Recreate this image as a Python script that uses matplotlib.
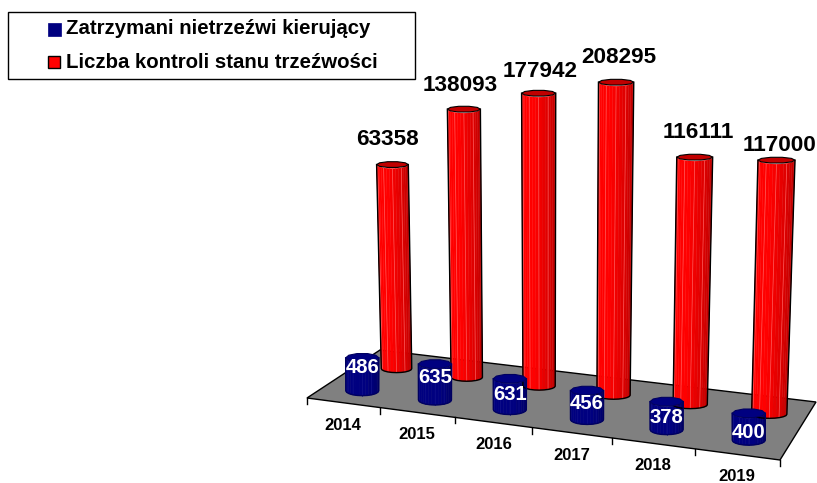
#!/usr/bin/python
import matplotlib
matplotlib.use('Agg')
import matplotlib.pyplot as plt
import numpy as np

years = ['2014', '2015', '2016', '2017', '2018', '2019']
zatrzymani = [486, 635, 631, 456, 378, 400]
kontrole = [63358, 138093, 177942, 208295, 116111, 117000]
legend_labels = ['Zatrzymani nietrzeźwi kierujący', 'Liczba kontroli stanu trzeźwości']

plt.rcParams['font.family'] = ['Liberation Sans', 'DejaVu Sans']
plt.rcParams['font.weight'] = 'bold'

fig = plt.figure(figsize=(8.17, 4.83), dpi=100)
ax = fig.add_axes([0, 0, 1, 1])
ax.set_xlim(0, 817)
ax.set_ylim(483, 0)
ax.axis('off')

# floor plane: category position u (0..6), depth w (0..1) -> pixels
src = [(0, 0), (6, 0), (6, 1), (0, 1)]
dst = [(307, 398), (780, 460), (816, 402), (380, 350)]
A = []
b = []
for (u, w), (x, y) in zip(src, dst):
    A.append([u, w, 1, 0, 0, 0, -u * x, -w * x])
    A.append([0, 0, 0, u, w, 1, -u * y, -w * y])
    b += [x, y]
H = np.append(np.linalg.solve(np.array(A, float), np.array(b, float)), 1).reshape(3, 3)


def project(u, w):
    p = H.dot([u, w, 1])
    return p[0] / p[2], p[1] / p[2]


# log height scales, with a small correction for the 3d view of each column
red_fix = [6, 0, 2, 8, -5, 1]
blue_fix = [1, 0, -5, -2, 0, -2]


def red_height(v, i):
    return 207 * (np.log10(v) - 3.845) + red_fix[i]


def blue_height(v, i):
    return 28 + 35 * (np.log10(v) - 2.577) + blue_fix[i]


def cylinder(u, w, r, h, cols, stripe, top, line, ry, capry, lean):
    x0, y0 = project(u, w)
    x1 = x0 + (x0 - 550) * lean * h
    y1 = y0 - h
    r1 = r * (1 + 0.0002 * h)
    n = len(cols)
    ang = np.linspace(np.pi, 0, n + 1)
    for i in range(n):
        a = ang[i:i + 2]
        xs = [x0 + r * np.cos(a[0]), x0 + r * np.cos(a[1]), x1 + r1 * np.cos(a[1]), x1 + r1 * np.cos(a[0])]
        ys = [y0 + ry * np.sin(a[0]), y0 + ry * np.sin(a[1]), y1 + ry * np.sin(a[1]), y1 + ry * np.sin(a[0])]
        ax.fill(xs, ys, color=cols[i], lw=0.3, zorder=3)
    for i in range(2, n - 2, 3):
        a = ang[i]
        ax.plot([x0 + r * np.cos(a), x1 + r1 * np.cos(a)],
                [y0 + ry * np.sin(a), y1 + ry * np.sin(a)], color=stripe, lw=0.5, zorder=3)
    # outline and cap
    t = np.linspace(np.pi, 0, 11)
    ox = np.r_[x1 + r1 * np.cos(t[0]), x0 + r * np.cos(t), x1 + r1 * np.cos(t[-1])]
    oy = np.r_[y1, y0 + ry * np.sin(t), y1]
    ax.plot(ox, oy, color=line, lw=1.0, zorder=4)
    t = np.linspace(0, 2 * np.pi, 11)
    ax.fill(x1 + r1 * np.cos(t), y1 + capry * np.sin(t), facecolor=top, edgecolor=line, lw=0.8, zorder=4)
    return x1, y1


red_cols = ['#e00000', '#f00000', '#ff0000', '#ff0000', '#ff0000', '#ff0000', '#ff0000', '#f80000',
            '#f00000', '#e80000', '#e00000', '#d80000', '#d00000', '#c80000', '#c00000', '#b80000']
blue_cols = ['#000070', '#000078', '#000080', '#000080', '#000080', '#000080', '#000080', '#000080',
             '#000080', '#000080', '#000078', '#000078', '#000070', '#000070', '#000068', '#000060']

# floor
corners = np.array(dst + [dst[0]])
ax.fill(corners[:, 0], corners[:, 1], facecolor='#808080', edgecolor='black', lw=1.0, zorder=1)
for i in range(len(years) + 1):
    x, y = project(i, 0)
    ax.plot([x, x], [y, y + 6], color='black', lw=1.0, zorder=1)

red_label_dx = [-5, -3.5, 1, 3, 4, 3]
red_label_dy = [-25, -24, -22, -25, -25, -15]
for i, year in enumerate(years):
    x, y = project(i + 0.5, 0)
    ax.text(x, y + 22.5, year, fontsize=12, ha='center', va='center', color='black')

    r = (project(i + 0.77, 0.69)[0] - project(i + 0.33, 0.69)[0]) / 2
    tx, ty = cylinder(i + 0.55, 0.69, r, red_height(kontrole[i], i), red_cols, '#ff5a5a', '#c00000', 'black',
                      4.0, 3.0, 0.00013)
    ax.text(tx + red_label_dx[i], ty + red_label_dy[i], str(kontrole[i]), fontsize=16.2, ha='center', va='center',
            color='black', zorder=8)

blue_label_dy = [10, 13, 16, 13, 16, 19]
for i, year in enumerate(years):
    tx, ty = cylinder(i + 0.52, 0.235, 16.5, blue_height(zatrzymani[i], i), blue_cols, '#10108c', '#000080',
                      '#000060', 5.0, 4.5, 0.0)
    ax.text(tx, ty + blue_label_dy[i], str(zatrzymani[i]), fontsize=14.6, ha='center', va='center', color='white',
            zorder=8)

# legend
ax.fill([8, 415, 415, 8], [12, 12, 79, 79], facecolor='white', edgecolor='black', lw=1.0, zorder=5)
ax.fill([48, 61, 61, 48], [23, 23, 36, 36], facecolor='#000080', edgecolor='#000080', lw=0.5, zorder=6)
ax.fill([48, 60, 60, 48], [56, 56, 68, 68], facecolor='#ff0000', edgecolor='black', lw=1.0, zorder=6)
ax.text(66, 29, legend_labels[0], fontsize=14.7, ha='left', va='center', color='black', zorder=6)
ax.text(66, 62, legend_labels[1], fontsize=14.7, ha='left', va='center', color='black', zorder=6)

fig.savefig('out.png', dpi=100)
